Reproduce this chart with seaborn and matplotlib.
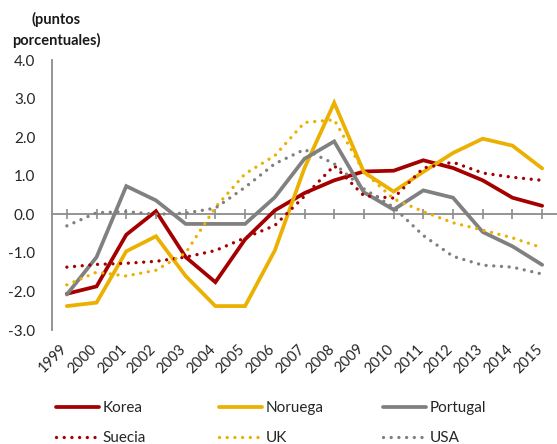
import matplotlib
matplotlib.use("Agg")
import matplotlib.pyplot as plt
import matplotlib.transforms as mtransforms
import seaborn as sns
import pandas as pd

years = [str(y) for y in range(1999, 2016)]
korea = [-2.06, -1.87, -0.53, 0.08, -1.11, -1.76, -0.65, 0.10, 0.55, 0.88, 1.11, 1.13, 1.40, 1.20, 0.88, 0.43, 0.22]
noruega = [-2.38, -2.29, -0.96, -0.57, -1.60, -2.38, -2.38, -0.94, 1.20, 2.89, 1.09, 0.59, 1.10, 1.59, 1.96, 1.78, 1.19]
portugal = [-2.08, -1.11, 0.73, 0.36, -0.25, -0.25, -0.25, 0.44, 1.44, 1.89, 0.57, 0.12, 0.62, 0.43, -0.46, -0.83, -1.31]
suecia = [-1.37, -1.30, -1.27, -1.22, -1.11, -0.94, -0.61, -0.29, 0.47, 1.26, 0.48, 0.42, 1.20, 1.35, 1.07, 0.96, 0.88]
uk = [-1.83, -1.50, -1.60, -1.45, -1.00, 0.18, 1.05, 1.52, 2.38, 2.45, 1.10, 0.40, 0.07, -0.22, -0.41, -0.61, -0.87]
usa = [-0.30, 0.04, 0.07, 0.00, 0.03, 0.16, 0.70, 1.31, 1.68, 1.31, 0.66, 0.18, -0.55, -1.09, -1.32, -1.37, -1.55]

series_names = ["Korea", "Noruega", "Portugal", "Suecia", "UK", "USA"]
series_vals = [korea, noruega, portugal, suecia, uk, usa]
y_ticks = [-3, -2, -1, 0, 1, 2, 3, 4]

RED, GOLD, GREY = "#A50000", "#EBB000", "#808080"
styles = {
    "Korea": (RED, "solid"),
    "Noruega": (GOLD, "solid"),
    "Portugal": (GREY, "solid"),
    "Suecia": (RED, "dotted"),
    "UK": (GOLD, "dotted"),
    "USA": (GREY, "dotted"),
}

sns.set_style("white")
plt.rcParams["font.family"] = ["Lato", "DejaVu Sans"]

fig = plt.figure(figsize=(5.57, 4.44), dpi=100)
ax = fig.add_axes([52 / 557, 1 - 330 / 444, 1 - 52 / 557, 270 / 444])

pos = list(range(len(years)))
handles = {}
for name, vals in zip(series_names, series_vals):
    col, ls = styles[name]
    df = pd.DataFrame({"x": pos, "y": vals})
    if ls == "solid":
        sns.lineplot(data=df, x="x", y="y", ax=ax, color=col, linewidth=2.7,
                     solid_joinstyle="miter", label=name, legend=False)
    else:
        sns.lineplot(data=df, x="x", y="y", ax=ax, color=col, linewidth=2.4,
                     dashes=False, label=name, legend=False)
        ln = ax.lines[-1]
        ln.set_linestyle((0, (0.01, 2.3)))
        ln.set_dash_capstyle("round")
    handles[name] = ax.lines[-1]

ax.set_xlim(-0.5, len(years) - 0.5)
ax.set_ylim(-3, 4)
ax.set_xlabel("")
ax.set_ylabel("")

for s in ["top", "right", "bottom"]:
    ax.spines[s].set_visible(False)
ax.spines["left"].set_color("#8C8C8C")
ax.spines["left"].set_linewidth(1.3)

ax.set_yticks(y_ticks)
ax.set_yticklabels([f"{v:.1f}" for v in y_ticks])
ax.tick_params(axis="y", direction="out", length=4, width=1.2, color="#8C8C8C",
               pad=8, labelsize=11, labelcolor="#262626")

ax.set_xticks(pos)
ax.set_xticklabels(years, rotation=45, ha="right", va="center",
                   rotation_mode="anchor")
ax.tick_params(axis="x", length=0, pad=12, labelsize=10.5, labelcolor="#262626")
shift = mtransforms.ScaledTranslation(-2 / 100, 0, fig.dpi_scale_trans)
for lab in ax.get_xticklabels():
    lab.set_transform(lab.get_transform() + shift)

# zero axis line with tick marks
sec = ax.secondary_xaxis(3 / 7)
sec.set_xticks(pos)
sec.set_xticklabels([])
sec.spines["bottom"].set_color("#8C8C8C")
sec.spines["bottom"].set_linewidth(1.3)
sec.tick_params(axis="x", direction="inout", length=7, width=1.2, color="#8C8C8C")

# legend: three columns, each a small legend
columns = [["Korea", "Suecia"], ["Noruega", "UK"], ["Portugal", "USA"]]
col_x = [56, 219, 383]
for names, x0 in zip(columns, col_x):
    leg = fig.legend([handles[n] for n in names], names, loc="upper left",
                     bbox_to_anchor=(x0 / 557, 1 - 401 / 444),
                     bbox_transform=fig.transFigure, frameon=False, fontsize=11,
                     handlelength=2.8, handletextpad=0.25, labelspacing=1.05,
                     borderaxespad=0, borderpad=0)
    for t in leg.get_texts():
        t.set_color("#262626")

fig.text(56 / 557, 1 - 30 / 444, "(puntos\nporcentuales)", ha="center", va="center",
         fontsize=10.5, fontweight="bold", color="#1a1a1a", linespacing=1.5)

fig.savefig("out.png", dpi=100)
